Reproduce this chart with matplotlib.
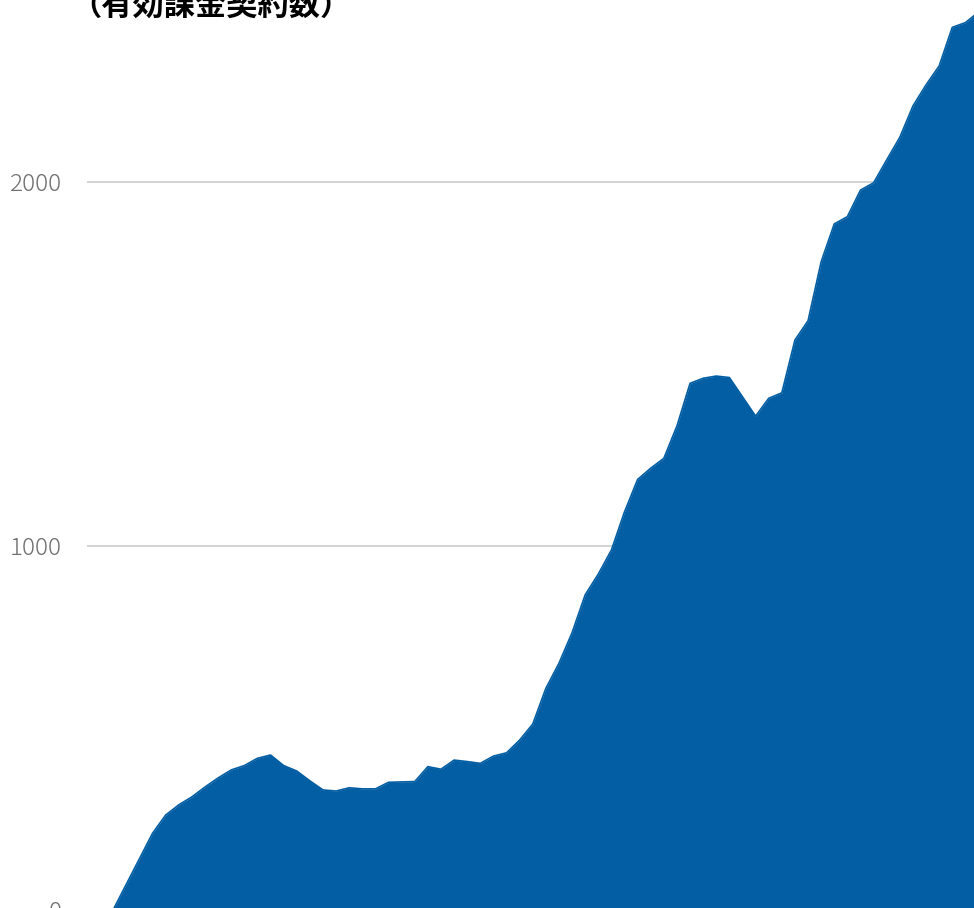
import matplotlib
matplotlib.use("Agg")
import matplotlib.pyplot as plt

# 有効課金契約数（月次, 画像から読み取った概算値）
contracts = [0, 0, 0, 70, 140, 210, 260, 288, 310, 337,
             362, 384, 396, 416, 425, 396, 381, 354, 329, 326,
             335, 332, 332, 350, 351, 352, 393, 386, 411, 407,
             402, 422, 431, 466, 510, 608, 677, 761, 865, 922,
             988, 1093, 1182, 1213, 1240, 1329, 1446, 1460, 1466, 1462,
             1409, 1356, 1405, 1420, 1565, 1618, 1780, 1884, 1904, 1977,
             1997, 2060, 2122, 2208, 2266, 2318, 2424, 2437, 2466]
months = list(range(len(contracts)))
yticks = [0, 1000, 2000]
title = "（有効課金契約数）"

W, H = 974, 908
fig = plt.figure(figsize=(W / 100, H / 100), dpi=100)

# 軸は右端・上端で切れている
left, zero_px, px_per_unit, step = 87, 909.7, 0.364, 13.11
ax = fig.add_axes([left / W, (H - zero_px) / H, (W - left) / W, zero_px / H])
ax.set_xlim(0, (W - left) / step)
ax.set_ylim(0, zero_px / px_per_unit)

blue = "#045ea3"
ax.fill_between(months, contracts, 0, color=blue, lw=0, zorder=2)
ax.plot(months, contracts, color=blue, lw=1.2, zorder=3)
ax.axhline(0, color=blue, lw=4, zorder=3)

ax.set_yticks(yticks)
ax.set_yticklabels([str(v) for v in yticks], family=["Noto Sans CJK JP", "DejaVu Sans"],
                   fontweight="light", fontsize=17.5, color="#707070")
ax.tick_params(axis="y", length=0, pad=18)
ax.set_xticks([])
ax.yaxis.grid(True, color="#d4d4d4", lw=1.4, zorder=1)
ax.set_axisbelow(True)
for s in ax.spines.values():
    s.set_visible(False)

fig.text(70 / W, 1 - 15 / H, title, family=["Noto Sans CJK JP", "DejaVu Sans"],
         fontweight="bold", fontsize=22.5, color="black", ha="left", va="baseline")

fig.savefig("out.png", dpi=100)
